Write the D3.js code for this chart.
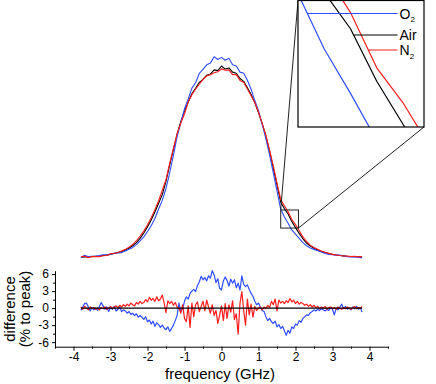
<!DOCTYPE html>
<html><head><meta charset="utf-8">
<script src="https://cdn.jsdelivr.net/npm/d3@7"></script>
<style>body{margin:0;background:#fff}svg{display:block}text{font-family:"Liberation Sans",Arial,sans-serif;fill:#000}</style>
</head><body><svg id="c" width="436" height="384"></svg>
<script>
// ---- data ----
const freqStart = -3.8;
const topStep = 0.1;   // GHz between profile samples
const diffStep = 0.05; // GHz between difference samples

const airProfile = [
 0.004,0.006,0.005,0.008,0.009,0.010,0.013,0.015,0.019,0.023,
 0.028,0.034,0.042,0.052,0.064,0.080,0.102,0.130,0.162,0.198,
 0.240,0.285,0.330,0.400,0.485,0.565,0.645,0.710,0.765,0.812,
 0.855,0.884,0.915,0.930,0.952,0.958,0.980,0.976,
 1.000,
 0.984,0.990,0.968,0.962,0.935,0.920,0.886,0.852,0.808,
 0.758,0.700,0.635,0.555,0.470,0.380,0.292,0.256,0.229,0.190,
 0.158,0.128,0.100,0.078,0.062,0.050,0.042,0.034,0.028,0.023,
 0.019,0.016,0.013,0.011,0.009,0.008,0.007,0.006,0.004];

const o2Profile = [
 0.001,0.014,0.007,0.009,0.009,0.013,0.017,0.017,0.020,0.026,
 0.026,0.028,0.037,0.046,0.055,0.070,0.089,0.110,0.138,0.168,
 0.206,0.255,0.300,0.362,0.444,0.535,0.632,0.704,0.777,0.828,
 0.885,0.913,0.961,0.982,1.006,1.015,1.048,1.034,
 1.045,
 1.030,1.040,1.006,1.000,0.968,0.962,0.926,0.878,0.820,
 0.767,0.696,0.620,0.537,0.443,0.350,0.255,0.214,0.181,0.146,
 0.124,0.102,0.080,0.064,0.052,0.045,0.038,0.031,0.023,0.019,
 0.017,0.016,0.015,0.010,0.007,0.005,0.006,0.004,0.000];

const n2Profile = [
 0.006,0.009,0.002,0.007,0.007,0.007,0.012,0.013,0.022,0.025,
 0.029,0.036,0.045,0.056,0.070,0.090,0.114,0.140,0.173,0.210,
 0.252,0.298,0.353,0.408,0.493,0.570,0.647,0.703,0.750,0.812,
 0.850,0.880,0.905,0.930,0.948,0.955,0.965,0.970,
 0.985,
 0.978,0.980,0.955,0.955,0.925,0.915,0.880,0.845,0.810,
 0.760,0.700,0.640,0.562,0.480,0.390,0.305,0.272,0.241,0.200,
 0.174,0.142,0.110,0.085,0.067,0.055,0.045,0.036,0.030,0.024,
 0.019,0.016,0.013,0.011,0.010,0.007,0.009,0.006,0.007];

const o2Diff = [
 -0.4,0.2,0.8,0.9,0.2,-0.5,0.1,-0.3,0.0,-0.4,
 0.3,1.0,0.4,-0.2,0.2,-0.6,0.1,-0.2,0.3,-0.5,
 -0.2,0.2,-0.6,-0.3,-0.5,-0.9,-0.6,-1.1,-0.9,-1.3,
 -1.0,-1.6,-1.3,-1.6,-2.0,-1.5,-2.4,-2.1,-2.8,-2.3,
 -3.2,-2.6,-2.9,-3.4,-3.0,-3.5,-3.8,-3.3,-4.1,-3.6,
 -3.0,-2.2,-1.3,0.9,-0.6,-0.1,1.2,2.0,1.6,2.6,
 3.0,3.3,2.9,4.0,4.6,5.6,5.0,5.4,4.8,5.7,
 5.3,6.6,5.9,4.5,5.2,3.5,3.2,4.8,5.5,4.9,
 3.9,5.1,4.4,5.0,3.6,4.4,3.2,5.7,4.2,3.8,
 4.1,3.3,2.6,2.1,1.2,0.6,0.9,0.2,-0.4,-0.6,
 -1.5,-2.2,-1.8,-2.4,-2.7,-2.3,-3.3,-2.9,-3.6,-3.2,
 -4.0,-4.8,-3.9,-4.4,-3.3,-3.6,-2.8,-3.0,-2.2,-2.5,
 -1.8,-1.5,-1.2,-1.3,-0.8,-0.6,-0.3,-0.5,-0.2,-0.4,
 -0.1,-0.3,-0.5,-0.2,-0.4,0.1,-0.2,-1.2,0.0,-0.3,
 0.2,0.7,-0.1,0.3,-0.2,0.1,-0.3,0.2,-0.1,0.3,
 -0.2,0.1,-0.7];

const n2Diff = [
 0.2,-0.2,0.3,0.0,-0.3,0.2,-0.1,0.1,-0.2,0.0,
 -0.3,0.1,-0.1,0.2,-0.2,0.0,0.3,-0.1,0.2,0.4,
 0.1,0.5,0.2,0.6,0.3,0.7,0.4,0.9,0.6,0.4,
 1.0,0.7,1.2,0.8,1.0,1.5,1.1,1.9,1.4,1.7,
 1.2,2.0,1.3,1.6,2.3,0.9,-0.8,1.3,0.8,1.2,
 0.5,1.0,0.2,0.0,-0.9,0.6,-1.8,-2.4,0.4,-3.4,
 0.9,-1.5,0.6,1.1,-0.6,0.3,1.2,-0.5,1.4,0.2,
 -0.9,0.6,-1.3,-0.4,-2.7,-1.2,0.4,-2.2,0.8,-1.8,
 0.6,-0.7,1.3,-2.0,-1.0,-4.6,0.9,2.9,-0.4,-3.0,
 1.6,-1.2,0.7,-1.6,0.3,-0.4,0.0,0.2,-0.3,0.2,
 -0.1,0.5,0.1,1.2,0.6,1.6,-0.5,1.4,0.9,1.2,
 0.8,1.3,1.0,1.7,1.1,1.4,0.8,1.2,0.7,1.0,
 0.8,0.5,0.7,0.3,0.6,0.2,0.5,0.1,0.3,-0.1,
 0.2,0.0,0.3,-0.2,0.1,0.2,-0.1,0.1,-0.2,0.2,
 0.0,-0.2,0.1,-0.1,0.2,0.0,-0.2,0.1,0.3,-0.1,
 0.1,-0.1,0.3];

const airDiff = [0, 0];           // reference line (Air - Air) at the two ends
const xTicks = [-4,-3,-2,-1,0,1,2,3,4];
const xMinorTicks = [-4.5,-3.5,-2.5,-1.5,-0.5,0.5,1.5,2.5,3.5,4.5];
const yTicks = [-6,-3,0,3,6];
const yMinorTicks = [-4.5,-1.5,1.5,4.5];
const zoomFreq = [1.6, 2.08];      // region magnified in the inset (GHz)
const zoomLevel = [0.156, 0.25];   // region magnified in the inset (intensity)
const labels = ["O2", "Air", "N2"];

// ---- drawing ----
const svg = d3.select("#c");
const col = {O2:"#2f4cff", Air:"#000000", N2:"#ff1c1c"};
const x = d3.scaleLinear().domain([-4.5,4.5]).range([55,388]);
const yTop = d3.scaleLinear().domain([0,1]).range([258,66]);
const yDiff = d3.scaleLinear().domain([-6.8,6.6]).range([346.7,270.7]);

const topPts = a => a.map((v,i)=>[freqStart+i*topStep, v]);
const diffPts = a => a.map((v,i)=>[freqStart+i*diffStep, v]);
const series = {Air: topPts(airProfile), O2: topPts(o2Profile), N2: topPts(n2Profile)};

const lineTop = d3.line().x(d=>x(d[0])).y(d=>yTop(d[1]));
["Air","O2","N2"].forEach(k=>{
  svg.append("path").attr("d", lineTop(series[k])).attr("fill","none")
    .attr("stroke", col[k]).attr("stroke-width",1.1).attr("stroke-linejoin","round");
});

// difference panel
const lineDiff = d3.line().x(d=>x(d[0])).y(d=>yDiff(d[1]));
svg.append("path").attr("d", lineDiff(diffPts(o2Diff))).attr("fill","none")
  .attr("stroke", col.O2).attr("stroke-width",1.2).attr("stroke-linejoin","round");
svg.append("path").attr("d", lineDiff(diffPts(n2Diff))).attr("fill","none")
  .attr("stroke", col.N2).attr("stroke-width",1.2).attr("stroke-linejoin","round");
svg.append("path").attr("d", lineDiff([[freqStart, airDiff[0]],[-freqStart, airDiff[1]]]))
  .attr("fill","none").attr("stroke","#000").attr("stroke-width",1.3);

// axes
const fmt = d => String(d);
svg.append("g").attr("transform",`translate(0,${yDiff.range()[0]})`)
  .call(d3.axisBottom(x).tickValues(xTicks).tickFormat(fmt).tickSize(4).tickSizeOuter(0).tickPadding(2));
svg.append("g").attr("transform",`translate(0,${yDiff.range()[0]})`)
  .call(d3.axisBottom(x).tickValues(xMinorTicks).tickFormat("").tickSize(2).tickSizeOuter(0))
  .select(".domain").remove();
svg.append("g").attr("transform",`translate(${x.range()[0]},0)`)
  .call(d3.axisLeft(yDiff).tickValues(yTicks).tickFormat(fmt).tickSize(3).tickSizeOuter(0).tickPadding(3));
svg.append("g").attr("transform",`translate(${x.range()[0]},0)`)
  .call(d3.axisLeft(yDiff).tickValues(yMinorTicks).tickFormat("").tickSize(2).tickSizeOuter(0))
  .select(".domain").remove();
svg.selectAll(".tick text").attr("font-size",12).attr("font-family","Liberation Sans, Arial, sans-serif");
svg.selectAll(".domain, .tick line").attr("stroke","#000").attr("stroke-width",1);

// titles
svg.append("text").attr("x",220).attr("y",379).attr("text-anchor","middle")
  .attr("font-size",15).text("frequency (GHz)");
svg.append("text").attr("transform","translate(14.5,309) rotate(-90)").attr("text-anchor","middle")
  .attr("font-size",15).text("difference");
svg.append("text").attr("transform","translate(30,309) rotate(-90)").attr("text-anchor","middle")
  .attr("font-size",15).text("(% to peak)");

// zoom box and inset
const bx0 = x(zoomFreq[0]), bx1 = x(zoomFreq[1]);
const by0 = yTop(zoomLevel[1]), by1 = yTop(zoomLevel[0]);
const ix0 = 298, ix1 = 424, iy0 = 0.5, iy1 = 127;
svg.append("rect").attr("x",bx0).attr("y",by0).attr("width",bx1-bx0).attr("height",by1-by0)
  .attr("fill","none").attr("stroke","#222").attr("stroke-width",1);
svg.append("line").attr("x1",bx0).attr("y1",by0).attr("x2",ix0).attr("y2",iy0)
  .attr("stroke","#222").attr("stroke-width",1);
svg.append("line").attr("x1",bx1).attr("y1",by1).attr("x2",ix1).attr("y2",iy1)
  .attr("stroke","#222").attr("stroke-width",1);

const xi = d3.scaleLinear().domain(zoomFreq).range([ix0, ix1]);
const yi = d3.scaleLinear().domain(zoomLevel).range([iy1, iy0]);
svg.append("defs").append("clipPath").attr("id","ic").append("rect")
  .attr("x",ix0).attr("y",iy0).attr("width",ix1-ix0).attr("height",iy1-iy0);
svg.append("rect").attr("x",ix0).attr("y",iy0).attr("width",ix1-ix0).attr("height",iy1-iy0)
  .attr("fill","#fff");
const gi = svg.append("g").attr("clip-path","url(#ic)");
const lineIn = d3.line().x(d=>xi(d[0])).y(d=>yi(d[1]));
["O2","Air","N2"].forEach(k=>{
  gi.append("path").attr("d", lineIn(series[k].filter(d=>d[0]>1.3 && d[0]<2.4))).attr("fill","none")
    .attr("stroke", col[k]).attr("stroke-width",1.2).attr("stroke-linejoin","round");
});

// leader lines + labels
function crossAt(pts, v){
  for (let i=1;i<pts.length;i++){
    const a=pts[i-1], b=pts[i];
    if (a[0]>1.3 && a[1]>=v && b[1]<v){
      return a[0] + (a[1]-v)/(a[1]-b[1])*(b[0]-a[0]);
    }
  }
  return zoomFreq[0];
}
const labelY = {O2:13.5, Air:35, N2:50};
["O2","Air","N2"].forEach((k,j)=>{
  const ly = labelY[k];
  const fx = crossAt(series[k], yi.invert(ly));
  gi.append("line").attr("x1",xi(fx)).attr("y1",ly).attr("x2",397.5).attr("y2",ly)
    .attr("stroke",col[k]).attr("stroke-width",1.2);
  const t = svg.append("text").attr("x",399.5).attr("y",ly+5).attr("font-size",14);
  const name = labels[j];
  if (name.endsWith("2")) {
    t.append("tspan").text(name.slice(0,-1));
    t.append("tspan").attr("font-size",8).attr("dy",3.5).text("2");
  } else t.text(name);
});
svg.append("rect").attr("x",ix0).attr("y",iy0).attr("width",ix1-ix0).attr("height",iy1-iy0)
  .attr("fill","none").attr("stroke","#000").attr("stroke-width",1.2);
</script></body></html>
